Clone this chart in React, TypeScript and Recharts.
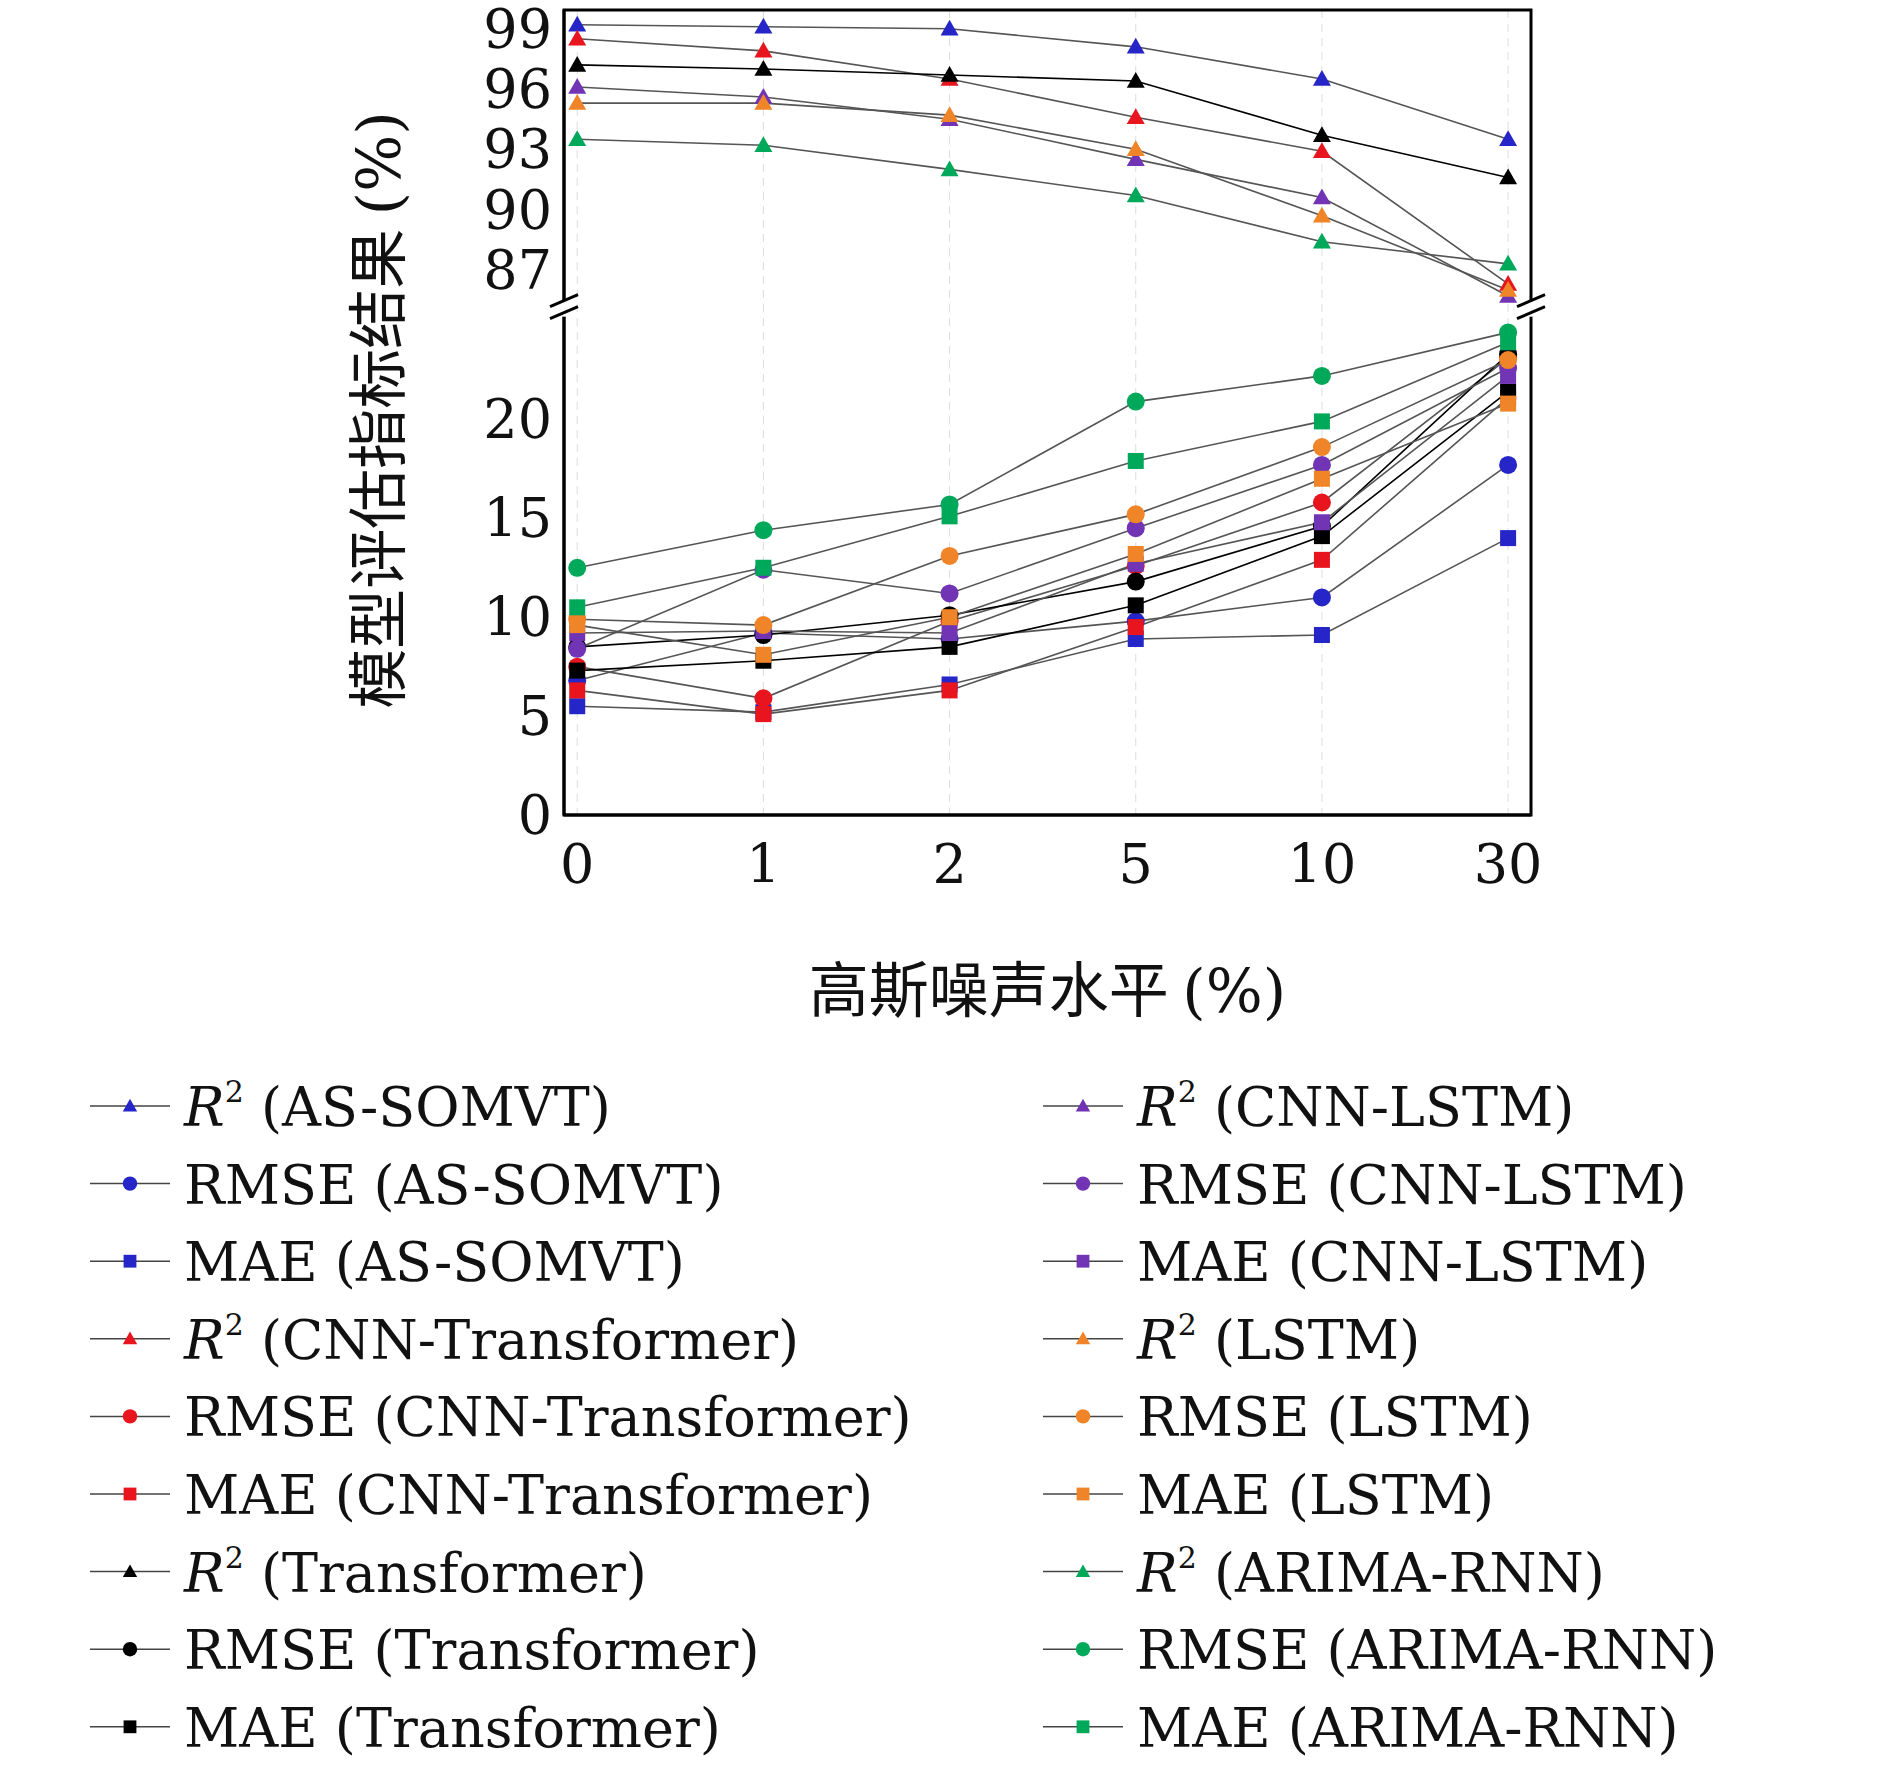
import React from "react";
import { LineChart, Line, XAxis, YAxis, CartesianGrid } from "recharts";

const noiseLevels = ["0", "1", "2", "5", "10", "30"];
const models = ["AS-SOMVT", "CNN-Transformer", "Transformer", "CNN-LSTM", "LSTM", "ARIMA-RNN"];
const modelColors = ["#2626c8", "#e8141e", "#000000", "#7034b4", "#f08428", "#00a85a"];
const r2Values = [
  [99.2, 99.1, 99.0, 98.1, 96.5, 93.5],
  [98.5, 97.9, 96.5, 94.6, 92.9, 86.3],
  [97.2, 97.0, 96.7, 96.4, 93.7, 91.6],
  [96.1, 95.6, 94.5, 92.5, 90.6, 85.7],
  [95.3, 95.3, 94.7, 93.0, 89.7, 86.0],
  [93.5, 93.2, 92.0, 90.7, 88.4, 87.3],
];
const rmseValues = [
  [6.8, 9.2, 8.9, 9.8, 11.0, 17.7],
  [7.5, 5.9, 9.8, 12.6, 15.8, 23.1],
  [8.5, 9.1, 10.1, 11.8, 14.6, 23.3],
  [8.4, 12.4, 11.2, 14.5, 17.7, 22.6],
  [9.9, 9.6, 13.1, 15.2, 18.6, 23.0],
  [12.5, 14.4, 15.7, 20.9, 22.2, 24.4],
];
const maeValues = [
  [5.5, 5.2, 6.6, 8.9, 9.1, 14.0],
  [6.3, 5.1, 6.3, 9.5, 12.9, 21.1],
  [7.3, 7.8, 8.5, 10.6, 14.1, 21.4],
  [9.2, 9.3, 9.2, 12.7, 14.8, 22.2],
  [9.6, 8.1, 10.0, 13.2, 17.0, 20.8],
  [10.5, 12.5, 15.1, 17.9, 19.9, 23.9],
];
const lowerTicks = [0, 5, 10, 15, 20];
const upperTicks = [87, 90, 93, 96, 99];

const mapUpper = (v: number) => 27.56 + (v - 87) * 1.016;
const unmap = (m: number) => (m > 26 ? Math.round(87 + (m - 27.56) / 1.016) : Math.round(m));

const metrics = ["R2", "RMSE", "MAE"];
const shapes = ["triangle", "circle", "square"];

const data = noiseLevels.map((lab, i) => {
  const row: any = { x: i, label: lab };
  models.forEach((m, k) => {
    row[`R2_${k}`] = mapUpper(r2Values[k][i]);
    row[`RMSE_${k}`] = rmseValues[k][i];
    row[`MAE_${k}`] = maeValues[k][i];
  });
  return row;
});

const FONT = "'DejaVu Serif', 'Liberation Serif', serif";
const CJK = "'Noto Sans CJK SC', serif";

function Marker({ cx, cy, shape, color, s = 1 }: any) {
  if (cx == null || cy == null) return null;
  if (shape === "triangle") {
    const r = 9 * s;
    return <polygon points={`${cx},${cy - r} ${cx - r},${cy + r * 0.75} ${cx + r},${cy + r * 0.75}`} fill={color} />;
  }
  if (shape === "circle") return <circle cx={cx} cy={cy} r={9 * s} fill={color} />;
  return <rect x={cx - 8 * s} y={cy - 8 * s} width={16 * s} height={16 * s} fill={color} />;
}

const PL = 564, PR = 1531, PT = 10, PB = 815;
const W = 1890, H = 1100;
const YW = 100, XH = 120;

const renderYTick = (p: any) => (
  <text key={p.index} x={p.x - 4} y={p.y} dy={19} textAnchor="end" fontSize={54} fontFamily={FONT} fill="#111">
    {unmap(p.payload.value)}
  </text>
);
const renderXTick = (p: any) => (
  <text key={p.index} x={p.x} y={p.y + 60} textAnchor="middle" fontSize={54} fontFamily={FONT} fill="#111">
    {noiseLevels[p.payload.value]}
  </text>
);

const legendItems: any[] = [];
models.forEach((m, k) => {
  metrics.forEach((met, j) => legendItems.push({ model: m, metric: met, color: modelColors[k], shape: shapes[j] }));
});

export default function App() {
  const yTicks = [...lowerTicks, ...upperTicks.map(mapUpper)];
  const breakY = PT + (PB - PT) * (1 - 25.5 / 40.7);
  return (
    <div style={{ position: "absolute", left: 0, top: 0, width: W, height: 1772, background: "#fff" }}>
      <LineChart width={W} height={H} data={data} margin={{ top: PT, left: PL - YW, right: W - PR, bottom: H - PB - XH }}>
        <CartesianGrid vertical horizontal={false} stroke="#ddd" strokeDasharray="8 6" />
        <XAxis dataKey="x" type="number" domain={[-0.071, 5.123]} ticks={[0, 1, 2, 3, 4, 5]} height={XH}
          tick={renderXTick} stroke="#000" strokeWidth={3} tickLine={false} interval={0} />
        <YAxis type="number" domain={[0, 40.7]} ticks={yTicks} width={YW} tick={renderYTick} stroke="#000"
          strokeWidth={3} tickLine={false} allowDataOverflow interval={0} />
        {models.map((m, k) =>
          metrics.map((met, j) => (
            <Line key={`${met}_${k}`} dataKey={`${met}_${k}`} isAnimationActive={false} stroke={modelColors[k] === "#000000" ? "#000" : "#555"}
              strokeWidth={1.6} dot={(p: any) => <Marker key={p.index} cx={p.cx} cy={p.cy} shape={shapes[j]} color={modelColors[k]} />} />
          ))
        )}
      </LineChart>
      <svg width={W} height={H} style={{ position: "absolute", left: 0, top: 0, pointerEvents: "none" }}>
        <rect x={PL} y={PT} width={PR - PL} height={PB - PT} fill="none" stroke="#000" strokeWidth={3} />
        {[PL, PR].map((x) => (
          <g key={x}>
            <rect x={x - 6} y={breakY - 10} width={12} height={16} fill="#fff" />
            <line x1={x - 14} y1={breakY - 4} x2={x + 14} y2={breakY - 16} stroke="#000" strokeWidth={3} />
            <line x1={x - 14} y1={breakY + 8} x2={x + 14} y2={breakY - 4} stroke="#000" strokeWidth={3} />
          </g>
        ))}
        <text x={(PL + PR) / 2} y={1012} textAnchor="middle" fontSize={60} fontFamily={CJK} fill="#111">
          高斯噪声水平 <tspan fontFamily={FONT}>(%)</tspan>
        </text>
        <text transform={`translate(400,410) rotate(-90)`} textAnchor="middle" fontSize={60} fontFamily={CJK} fill="#111">
          模型评估指标结果 <tspan fontFamily={FONT}>(%)</tspan>
        </text>
      </svg>
      <svg width={W} height={700} style={{ position: "absolute", left: 0, top: 1060 }}>
        {legendItems.map((it, i) => {
          const col = i < 9 ? 0 : 1;
          const row = i % 9;
          const lx = col === 0 ? 90 : 1043;
          const y = 46 + row * 77.6;
          return (
            <g key={i}>
              <line x1={lx} y1={y} x2={lx + 80} y2={y} stroke="#444" strokeWidth={1.5} />
              <Marker cx={lx + 40} cy={y} shape={it.shape} color={it.color} s={0.8} />
              <text x={lx + 94} y={y + 20} fontSize={54} fontFamily={FONT} fill="#111">
                {it.metric === "R2" ? (
                  <>
                    <tspan fontStyle="italic">R</tspan>
                    <tspan fontSize={30} dy={-24}>2</tspan>
                    <tspan dy={24}>{`  (${it.model})`}</tspan>
                  </>
                ) : (
                  `${it.metric} (${it.model})`
                )}
              </text>
            </g>
          );
        })}
      </svg>
    </div>
  );
}
